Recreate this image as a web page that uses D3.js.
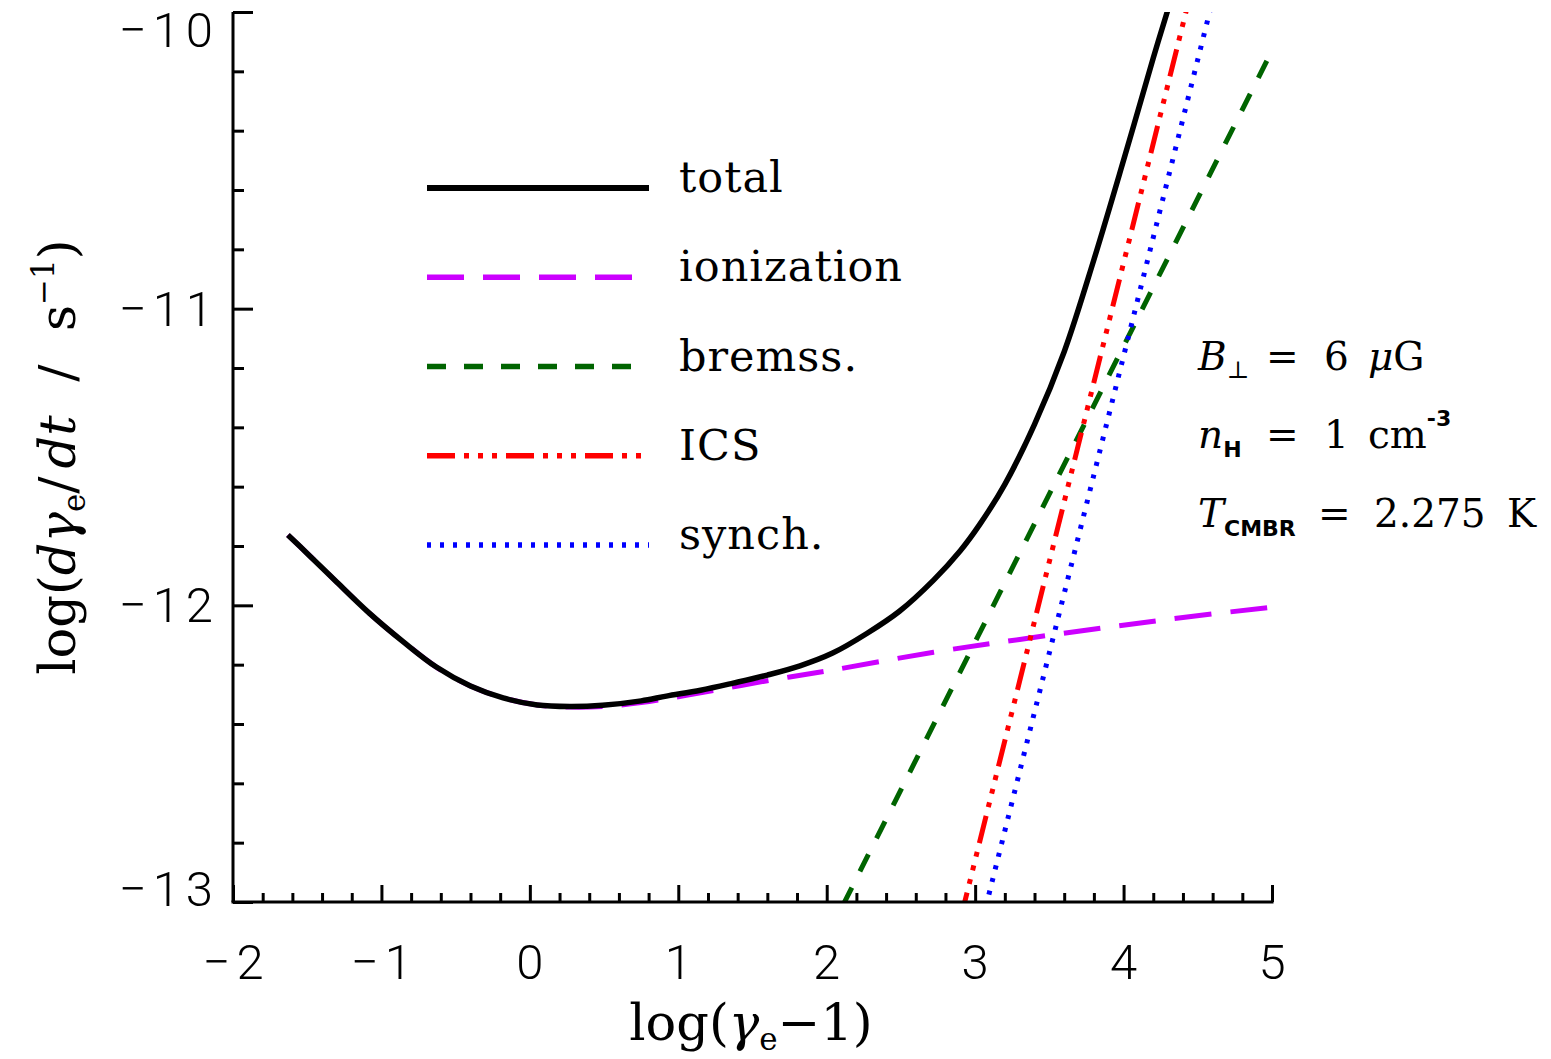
<!DOCTYPE html>
<html>
<head>
<meta charset="utf-8">
<script src="https://cdn.jsdelivr.net/npm/d3@7"></script>
<style>
  html, body { margin: 0; padding: 0; background: #fff; }
  svg { display: block; }
  .tick-label { font-family: Roboto, "DejaVu Sans", sans-serif; font-weight: 300; font-size: 49px; fill: #000; letter-spacing: 6px; }
  .title { font-family: "DejaVu Serif", serif; font-size: 51px; fill: #000; }
  .leg { font-family: "DejaVu Serif", serif; font-size: 43px; fill: #000; letter-spacing: 1px; }
  .ann { font-family: "DejaVu Serif", serif; font-size: 39px; fill: #000; }
</style>
</head>
<body>
<svg id="chart" width="1551" height="1059"></svg>
<script>
// ---------------- data ----------------
const xTickValues = [-2, -1, 0, 1, 2, 3, 4, 5];
const yTickValues = [-13, -12, -11, -10];
const xMinorStep = 0.2;
const yMinorStep = 0.2;

// ionization losses
const ionX = [-1.63, -1.5, -1.3, -1.08, -0.85, -0.63, -0.4, -0.18, 0.05, 0.27, 0.49, 0.75, 1.15, 1.6, 2.04, 2.72, 3.3, 3.86, 4.4, 5.0];
const ionY = [-11.763, -11.825, -11.922, -12.027, -12.124, -12.208, -12.272, -12.312, -12.336, -12.343, -12.341, -12.328, -12.295, -12.254, -12.218, -12.158, -12.115, -12.076, -12.041, -12.006];

// total losses
const totX = [-1.63, -1.5, -1.3, -1.08, -0.85, -0.63, -0.4, -0.18, 0.05, 0.27, 0.49, 0.75, 0.92, 1.15, 1.37, 1.6, 1.82, 2.04, 2.27, 2.49, 2.72, 2.9, 3.03, 3.2, 3.4, 3.6, 3.8, 4.0, 4.2, 4.3];
const totY = [-11.763, -11.825, -11.922, -12.027, -12.124, -12.208, -12.272, -12.312, -12.336, -12.341, -12.337, -12.322, -12.306, -12.286, -12.262, -12.235, -12.204, -12.161, -12.095, -12.02, -11.915, -11.816, -11.728, -11.592, -11.39, -11.145, -10.835, -10.50, -10.155, -9.99];

// bremsstrahlung
const bremX = [2.0, 5.0];
const bremY = [-13.12, -10.13];

// inverse Compton scattering
const icsX = [2.90, 4.45];
const icsY = [-13.06, -9.94];

// synchrotron
const synX = [3.05, 4.61];
const synY = [-13.06, -9.94];

const seriesNames = ["total", "ionization", "bremss.", "ICS", "synch."];

// ---------------- layout ----------------
const svg = d3.select("#chart");
const L = 233, R = 1272, T = 12, B = 902;
const x = d3.scaleLinear().domain([-2, 5]).range([L, R]);
const y = d3.scaleLinear().domain([-13, -10]).range([B, T]);

const styles = {
  "total":      { color: "#000000", dash: null, width: 5.5 },
  "ionization": { color: "#CC00FF", dash: "37,19", width: 5 },
  "bremss.":    { color: "#006400", dash: "19,18", width: 5 },
  "ICS":        { color: "#FF0000", dash: "28,9,5,9,5,9,5,9", width: 5 },
  "synch.":     { color: "#0000FF", dash: "4,9", width: 5 }
};

const series = [
  { name: "ionization", xs: ionX, ys: ionY },
  { name: "bremss.", xs: bremX, ys: bremY },
  { name: "ICS", xs: icsX, ys: icsY },
  { name: "synch.", xs: synX, ys: synY },
  { name: "total", xs: totX, ys: totY }
];

// clip
svg.append("defs").append("clipPath").attr("id", "plotclip")
  .append("rect").attr("x", L).attr("y", T).attr("width", R - L).attr("height", B - T);

const line = d3.line().x(d => x(d[0])).y(d => y(d[1])).curve(d3.curveCatmullRom.alpha(0.5));

const plot = svg.append("g").attr("clip-path", "url(#plotclip)");
series.forEach(s => {
  const st = styles[s.name];
  const pts = s.xs.map((v, i) => [v, s.ys[i]]);
  plot.append("path")
    .attr("d", line(pts))
    .attr("fill", "none")
    .attr("stroke", st.color)
    .attr("stroke-width", st.width)
    .attr("stroke-dasharray", st.dash)
    .attr("stroke-linecap", "butt");
});

// ---------------- axes ----------------
const xMinor = d3.range(-2, 5.0001, xMinorStep).filter(v => Math.abs(v - Math.round(v)) > 1e-6);
const yMinor = d3.range(-13, -9.9999, yMinorStep).filter(v => Math.abs(v - Math.round(v)) > 1e-6);

const axisStroke = 3;

// left axis
const gy = svg.append("g").attr("transform", `translate(${L},0)`);
gy.call(d3.axisLeft(y).tickValues(yTickValues).tickSize(-20).tickFormat(""));
const gyMinor = svg.append("g").attr("transform", `translate(${L},0)`);
gyMinor.call(d3.axisLeft(y).tickValues(yMinor).tickSize(-11).tickFormat(""));
// bottom axis
const gx = svg.append("g").attr("transform", `translate(0,${B})`);
gx.call(d3.axisBottom(x).tickValues(xTickValues).tickSize(-17).tickFormat(""));
const gxMinor = svg.append("g").attr("transform", `translate(0,${B})`);
gxMinor.call(d3.axisBottom(x).tickValues(xMinor).tickSize(-9).tickFormat(""));

[gy, gyMinor, gx, gxMinor].forEach(g => {
  g.selectAll("path.domain").attr("stroke", "#000").attr("stroke-width", axisStroke);
  g.selectAll(".tick line").attr("stroke", "#000").attr("stroke-width", axisStroke);
});
gy.select("path.domain").attr("d", `M0,${T}V${B}`);
gyMinor.select("path.domain").remove();
gxMinor.select("path.domain").remove();
gx.select("path.domain").attr("d", `M${L - 1.5},0H${R + 1.5}`);

// tick labels
const fmt = v => (v < 0 ? "\u2212" : "") + Math.abs(v);
svg.append("g").selectAll("text").data(yTickValues).join("text")
  .attr("class", "tick-label")
  .attr("x", 219)
  .attr("y", v => Math.min(Math.max(y(v), T + 18), B - 13) + 17)
  .attr("text-anchor", "end")
  .text(fmt);

svg.append("g").selectAll("text").data(xTickValues).join("text")
  .attr("class", "tick-label")
  .attr("x", v => x(v) + 3)
  .attr("y", 979)
  .attr("text-anchor", "middle")
  .text(fmt);

// axis titles
const xt = svg.append("text").attr("class", "title").attr("x", 751).attr("y", 1040).attr("text-anchor", "middle");
xt.append("tspan").text("log(");
xt.append("tspan").attr("font-style", "italic").text("\u03B3");
xt.append("tspan").attr("font-size", "31px").attr("dy", 10).text("e");
xt.append("tspan").attr("dy", -10).text("\u22121)");

const yt = svg.append("text").attr("class", "title")
  .attr("transform", "translate(75,457) rotate(-90)")
  .attr("text-anchor", "middle");
yt.append("tspan").text("log(");
yt.append("tspan").attr("font-style", "italic").text("d\u03B3");
yt.append("tspan").attr("font-size", "31px").attr("dy", 10).text("e");
yt.append("tspan").attr("dy", -10).text("/");
yt.append("tspan").attr("dx", 8).attr("font-style", "italic").text("dt");
yt.append("tspan").attr("dx", 8).text("\u2002/\u2002");
yt.append("tspan").attr("dx", 8).text("s");
yt.append("tspan").attr("font-size", "31px").attr("dy", -21).text("\u22121");
yt.append("tspan").attr("dy", 21).text(")");

// ---------------- legend ----------------
const legY0 = 188, legDy = 89.25;
const leg = svg.append("g");
seriesNames.forEach((name, i) => {
  const st = styles[name];
  const yy = legY0 + i * legDy;
  leg.append("line")
    .attr("x1", 427).attr("x2", 649).attr("y1", yy).attr("y2", yy)
    .attr("stroke", st.color).attr("stroke-width", name === "total" ? 6 : 5.5)
    .attr("stroke-dasharray", st.dash);
  leg.append("text").attr("class", "leg").attr("x", 679).attr("y", yy + 4).text(name);
});

// ---------------- annotation ----------------
const ann = svg.append("g").attr("class", "ann");
const a1 = ann.append("text").attr("x", 1198).attr("y", 370);
a1.append("tspan").attr("font-style", "italic").text("B");
a1.append("tspan").attr("font-size", "24px").attr("dy", 8).text("\u22A5");
a1.append("tspan").attr("x", 1266).attr("dy", -8).text("=");
a1.append("tspan").attr("x", 1324).text("6");
a1.append("tspan").attr("x", 1368).attr("font-style", "italic").text("\u03BC");
a1.append("tspan").text("G");

const a2 = ann.append("text").attr("x", 1198).attr("y", 448);
a2.append("tspan").attr("font-style", "italic").text("n");
a2.append("tspan").attr("font-size", "22px").attr("font-weight", "bold").attr("font-family", "'DejaVu Sans', sans-serif").attr("dy", 9).text("H");
a2.append("tspan").attr("x", 1266).attr("dy", -9).text("=");
a2.append("tspan").attr("x", 1324).text("1");
a2.append("tspan").attr("x", 1368).text("cm");
a2.append("tspan").attr("font-size", "22px").attr("font-weight", "bold").attr("font-family", "'DejaVu Sans', sans-serif").attr("dy", -22).text("-3");

const a3 = ann.append("text").attr("x", 1198).attr("y", 527);
a3.append("tspan").attr("font-style", "italic").text("T");
a3.append("tspan").attr("font-size", "22px").attr("font-weight", "bold").attr("font-family", "'DejaVu Sans', sans-serif").attr("dy", 9).text("CMBR");
a3.append("tspan").attr("x", 1318).attr("dy", -9).text("=");
a3.append("tspan").attr("x", 1374).text("2.275");
a3.append("tspan").attr("x", 1507).text("K");
</script>
</body>
</html>
